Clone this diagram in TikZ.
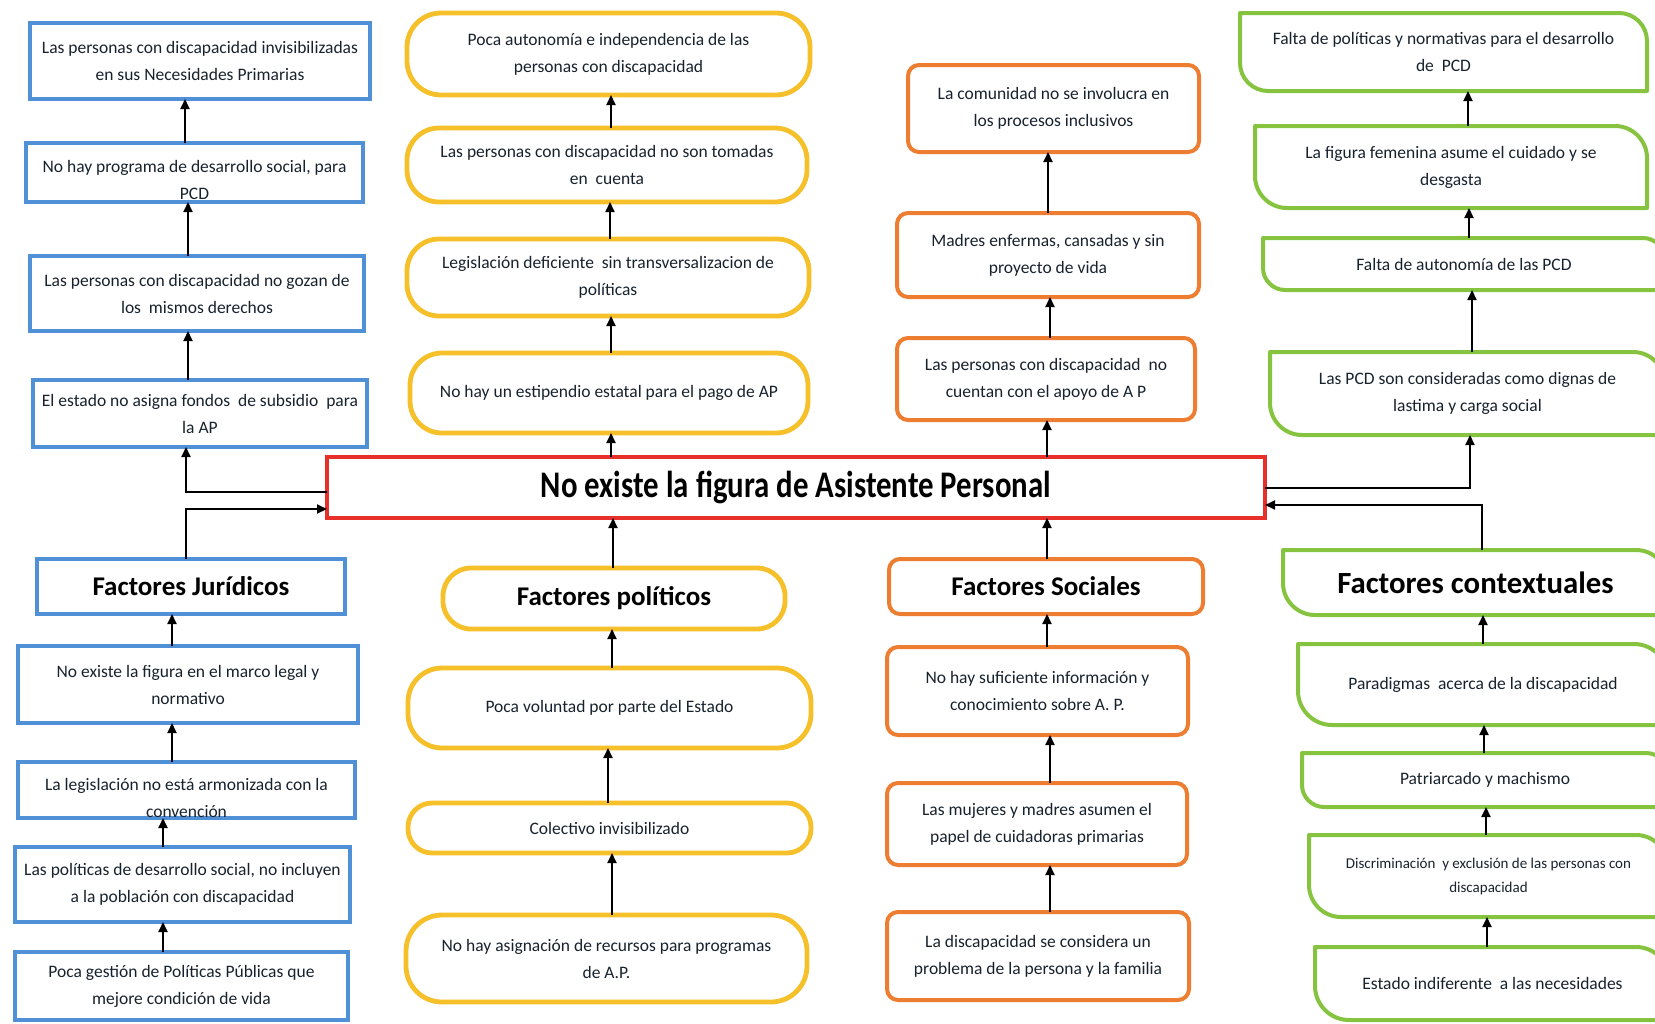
\documentclass[tikz,border=0pt]{standalone}
\usepackage{graphicx}
\usepackage{fontspec}
\setmainfont{Carlito}
\usetikzlibrary{arrows.meta,calc}
\definecolor{bl}{HTML}{4F90D6}
\definecolor{yl}{HTML}{F5C02A}
\definecolor{og}{HTML}{ED7D31}
\definecolor{gr}{HTML}{86C440}
\definecolor{rd}{HTML}{E8302A}
\definecolor{tx}{HTML}{18222D}
\newcommand\bx[7]{\node[#2, minimum width={(#5-#3)*0.5pt}, minimum height={(#6-#4)*0.5pt}] (#1) at ({(#3+#5)/2},{(#4+#6)/2}) {#7};}
\newcommand\gpath[2]{\draw[gline] (#1.north west) -- ($(#1.north east)+(-#2,0)$) .. controls ($(#1.north east)+(-0.45*#2,0)$) and ($(#1.north east)+(0,0.45*#2)$) .. ($(#1.north east)+(0,#2)$) -- (#1.south east) -- ($(#1.south west)+(#2,0)$) .. controls ($(#1.south west)+(0.45*#2,0)$) and ($(#1.south west)+(0,-0.45*#2)$) .. ($(#1.south west)+(0,-#2)$) -- cycle;}
\begin{document}
\begin{tikzpicture}[x=0.5pt,y=-0.5pt,
  base/.style={inner sep=0pt, outer sep=0pt, align=center, text=tx, font=\fontsize{8.75}{13.5}\selectfont},
  head/.style={font=\bfseries\fontsize{13.5}{16}\selectfont, text=black},
  bbox/.style={base, draw=bl, line width=2pt},
  ybox/.style={base, draw=yl, line width=2.4pt, rounded corners=#1},
  obox/.style={base, draw=og, line width=2pt, rounded corners=5.5pt},
  gbox/.style={base},
  gline/.style={draw=gr, line width=2pt, line join=round},
  arr/.style={-{Triangle[length=5pt,width=4.5pt]}, line width=1pt, black}]
\useasboundingbox (0,0) rectangle (1655,1023);
\fill[white] (0,0) rectangle (1655,1023);
\begin{scope}
\clip (0,0) rectangle (1655,1023);
% central
\bx{r}{base, draw=rd, line width=2.2pt, font=\bfseries\fontsize{15.4}{18}\selectfont, text=black}{327}{457}{1265}{518}{\scalebox{1}[1.22]{No existe la figura de Asistente Personal}}
% blue
\bx{b1}{bbox}{30}{23}{370}{99}{Las personas con discapacidad invisibilizadas\\en sus Necesidades Primarias}
\bx{b2}{bbox}{26}{143}{363}{202}{\rule{0pt}{14pt}No hay programa de desarrollo social, para\\PCD}
\bx{b3}{bbox}{30}{256}{364}{331}{Las personas con discapacidad no gozan de\\los\ \ mismos derechos}
\bx{b4}{bbox}{33}{380}{367}{447}{El estado no asigna fondos\ \ de subsidio\ \ para\\la AP}
\bx{fj}{bbox,head}{37}{559}{345}{614}{Factores Jurídicos}
\bx{b5}{bbox}{18}{646}{358}{723}{No existe la figura en el marco legal y\\normativo}
\bx{b6}{bbox}{18}{762}{355}{818}{\rule{0pt}{14pt}La legislación no está armonizada con la\\convención}
\bx{b7}{bbox}{15}{847}{350}{922}{Las políticas de desarrollo social, no incluyen\\a la población con discapacidad}
\bx{b8}{bbox}{15}{952}{348}{1020}{Poca gestión de Políticas Públicas que\\mejore condición de vida}
% yellow
\bx{y1}{ybox=17pt}{407}{13}{810}{95}{Poca autonomía e independencia de las\\personas con discapacidad}
\bx{y2}{ybox=16pt}{407}{128}{807}{202}{Las personas con discapacidad no son tomadas\\en\ \ cuenta}
\bx{y3}{ybox=16pt}{407}{239}{809}{316}{Legislación deficiente\ \ sin transversalizacion de\\políticas}
\bx{y4}{ybox=16pt}{410}{353}{808}{433}{No hay un estipendio estatal para el pago de AP}
\bx{fp}{ybox=14pt,head}{443}{568}{785}{629}{Factores políticos}
\bx{y5}{ybox=17pt}{408}{668}{811}{748}{Poca voluntad por parte del Estado}
\bx{y6}{ybox=12pt}{408}{803}{811}{853}{Colectivo invisibilizado}
\bx{y7}{ybox=18pt}{406}{915}{807}{1002}{No hay asignación de recursos para programas\\de A.P.}
% orange
\bx{o1}{obox}{908}{65}{1199}{152}{La comunidad no se involucra en\\los procesos inclusivos}
\bx{o2}{obox}{897}{213}{1199}{297}{Madres enfermas, cansadas y sin\\proyecto de vida}
\bx{o3}{obox}{897}{338}{1195}{420}{Las personas con discapacidad\ \ no\\cuentan con el apoyo de A P}
\bx{fs}{obox,head}{889}{559}{1203}{614}{Factores Sociales}
\bx{o4}{obox}{887}{647}{1188}{735}{No hay suficiente información y\\conocimiento sobre A. P.}
\bx{o5}{obox}{887}{783}{1187}{865}{Las mujeres y madres asumen el\\papel de cuidadoras primarias}
\bx{o6}{obox}{887}{912}{1189}{1000}{La discapacidad se considera un\\problema de la persona y la familia}
% green
\bx{g1}{gbox}{1240}{13}{1647}{91}{Falta de políticas y normativas para el desarrollo\\de\ \ PCD}
\bx{g2}{gbox}{1255}{126}{1647}{208}{La figura femenina asume el cuidado y se\\desgasta}
\bx{g3}{gbox}{1263}{238}{1665}{290}{Falta de autonomía de las PCD}
\bx{g4}{gbox}{1270}{352}{1665}{435}{Las PCD son consideradas como dignas de\\lastima y carga social}
\bx{fc}{gbox,head,font=\bfseries\fontsize{15.4}{18}\selectfont}{1283}{550}{1668}{615}{Factores contextuales}
\bx{g5}{gbox}{1298}{644}{1668}{725}{Paradigmas\ \ acerca de la discapacidad}
\bx{g6}{gbox}{1302}{753}{1668}{807}{Patriarcado y machismo}
\bx{g7}{gbox,font=\fontsize{7.5}{12}\selectfont}{1309}{835}{1668}{917}{Discriminación\ \ y exclusión de las personas con\\discapacidad}
\bx{g8}{gbox}{1315}{947}{1670}{1020}{Estado indiferente\ \ a las necesidades}
\gpath{g1}{28}
\gpath{g2}{32}
\gpath{g3}{22}
\gpath{g4}{32}
\gpath{fc}{32}
\gpath{g5}{34}
\gpath{g6}{22}
\gpath{g7}{32}
\gpath{g8}{34}
% blue arrows
\draw[arr] (b2.north -| 185,0) -- (b1.south -| 185,0);
\draw[arr] (b3.north -| 188,0) -- (b2.south -| 188,0);
\draw[arr] (b4.north -| 188,0) -- (b3.south -| 188,0);
\draw[arr] (r.west |- 0,492) -| (b4.south -| 186,0);
\draw[arr] (fj.north -| 186,0) |- (r.west |- 0,509);
\draw[arr] (b5.north -| 172,0) -- (fj.south -| 172,0);
\draw[arr] (b6.north -| 172,0) -- (b5.south -| 172,0);
\draw[arr] (b7.north -| 163,0) -- (b6.south -| 163,0);
\draw[arr] (b8.north -| 163,0) -- (b7.south -| 163,0);
% yellow arrows
\draw[arr] (y2.north -| 611,0) -- (y1.south -| 611,0);
\draw[arr] (y3.north -| 610,0) -- (y2.south -| 610,0);
\draw[arr] (y4.north -| 611,0) -- (y3.south -| 611,0);
\draw[arr] (r.north -| 611,0) -- (y4.south -| 611,0);
\draw[arr] (fp.north -| 613,0) -- (r.south -| 613,0);
\draw[arr] (y5.north -| 612,0) -- (fp.south -| 612,0);
\draw[arr] (y6.north -| 608,0) -- (y5.south -| 608,0);
\draw[arr] (y7.north -| 612,0) -- (y6.south -| 612,0);
% orange arrows
\draw[arr] (o2.north -| 1048,0) -- (o1.south -| 1048,0);
\draw[arr] (o3.north -| 1050,0) -- (o2.south -| 1050,0);
\draw[arr] (r.north -| 1047,0) -- (o3.south -| 1047,0);
\draw[arr] (fs.north -| 1047,0) -- (r.south -| 1047,0);
\draw[arr] (o4.north -| 1047,0) -- (fs.south -| 1047,0);
\draw[arr] (o5.north -| 1050,0) -- (o4.south -| 1050,0);
\draw[arr] (o6.north -| 1050,0) -- (o5.south -| 1050,0);
% green arrows
\draw[arr] (g2.north -| 1468,0) -- (g1.south -| 1468,0);
\draw[arr] (g3.north -| 1469,0) -- (g2.south -| 1469,0);
\draw[arr] (g4.north -| 1472,0) -- (g3.south -| 1472,0);
\draw[arr] (r.east |- 0,488) -| (g4.south -| 1470,0);
\draw[arr] (fc.north -| 1482,0) |- (r.east |- 0,505);
\draw[arr] (g5.north -| 1483,0) -- (fc.south -| 1483,0);
\draw[arr] (g6.north -| 1484,0) -- (g5.south -| 1484,0);
\draw[arr] (g7.north -| 1486,0) -- (g6.south -| 1486,0);
\draw[arr] (g8.north -| 1487,0) -- (g7.south -| 1487,0);
\end{scope}
\end{tikzpicture}
\end{document}
